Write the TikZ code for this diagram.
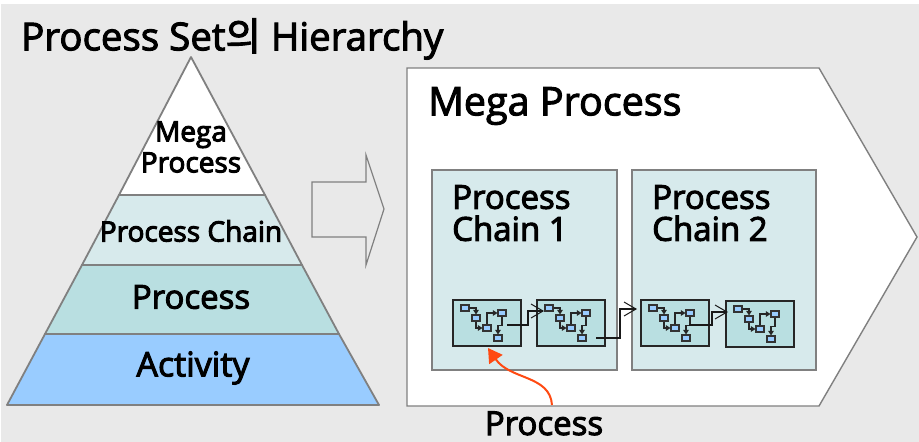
\documentclass[tikz,border=0pt]{standalone}
\usepackage{fontspec}
\setmainfont{Open Sans}
\newfontfamily\cjk{Noto Sans CJK KR}
\usetikzlibrary{arrows.meta}
\newcommand{\heavytext}{\special{pdf:code 2 Tr 1.0 w}}
\definecolor{bgg}{HTML}{E9E9E9}
\definecolor{edge}{HTML}{808080}
\definecolor{pale}{HTML}{D7EAEC}
\definecolor{teal}{HTML}{B9DFE1}
\definecolor{sky}{HTML}{99CCFF}
\definecolor{orng}{HTML}{FF4A12}
\tikzset{
 layer/.style={draw=edge,line width=1.8pt,line join=round},
 lbl/.style={inner sep=0pt,align=center,text=black,execute at begin node=\heavytext},
 word/.style={inner sep=0pt,text=black,anchor=base,execute at begin node=\heavytext},
 chainbox/.style={draw=edge,line width=1.8pt,fill=pale},
 procbox/.style={draw=black!85,line width=1.3pt,fill=teal,minimum width=68pt,minimum height=46pt,inner sep=0pt},
 mini/.style={draw=black!80,line width=1.1pt,fill=sky,minimum width=8pt,minimum height=6pt,inner sep=0pt},
 wire/.style={draw=black!85,line width=1.1pt,-{Triangle[length=4.5pt,width=5.5pt]}},
 link/.style={draw=black!90,line width=1.3pt,-{Straight Barb[length=12pt,width=14pt,line width=1pt]}},
}
\newcommand{\miniflow}[3]{%
 \node[procbox] (#1) at (#2,#3) {};
 \node[mini] (#1a) at (#2-22,#3-15) {};
 \node[mini] (#1b) at (#2-11,#3-5) {};
 \node[mini] (#1c) at (#2,#3+5) {};
 \node[mini] (#1d) at (#2+15,#3-10) {};
 \node[mini] (#1e) at (#2+11,#3+15) {};
 \draw[wire] (#1a.east) -| (#1b.north);
 \draw[wire] (#1b.south) |- (#1c.west);
 \draw[wire] (#1c.north) |- (#1d.west);
 \draw[wire] (#1d.south) -- ++(0,9) -| (#1e.north);
}
\begin{document}
\begin{tikzpicture}[x=1pt,y=-1pt]
\useasboundingbox (0,0) rectangle (919,442);
\fill[white] (0,0) rectangle (919,442);
\fill[bgg] (1,4) rectangle (919,442);
% pyramid
\coordinate (apex) at (191,57);
\coordinate (l1) at (119,195); \coordinate (r1) at (265,195);
\coordinate (l2) at (82,265); \coordinate (r2) at (302,265);
\coordinate (l3) at (45,334); \coordinate (r3) at (339,334);
\coordinate (l4) at (7,405); \coordinate (r4) at (379,405);
\draw[layer,fill=white] (apex)--(l1)--(r1)--cycle;
\draw[layer,fill=pale] (l1)--(l2)--(r2)--(r1)--cycle;
\draw[layer,fill=teal] (l2)--(l3)--(r3)--(r2)--cycle;
\draw[layer,fill=sky] (l3)--(l4)--(r4)--(r3)--cycle;
\node[lbl,font=\fontsize{28}{31}\selectfont] (mega) at (191,147) {Mega\\Process};
\node[lbl,font=\fontsize{28}{30}\selectfont] (chain) at (191,231) {Process Chain};
\node[lbl,font=\fontsize{33}{36}\selectfont] (proc) at (191,297) {Process};
\node[lbl,font=\fontsize{34}{36}\selectfont] (act) at (193,368) {Activity};
\node[lbl,anchor=west,font=\fontsize{38.5}{40}\selectfont] (title) at (21,39) {Process Set{\cjk 의} Hierarchy};
% block arrow
\draw[draw=edge,line width=1.2pt,fill=bgg,line join=miter] (312,182)--(366,182)--(366,155)--(384,209)--(366,265)--(366,237)--(312,237)--cycle;
% mega process
\draw[draw=edge,line width=1.4pt,fill=white] (407,68)--(819,68)--(917,237)--(819,406)--(407,406)--cycle;
\node[lbl,anchor=west,font=\fontsize{39.5}{42}\selectfont] (mp) at (428,106) {Mega Process};
\draw[chainbox] (432,170) rectangle (617,370);
\draw[chainbox] (632,170) rectangle (816,370);
\node[lbl,anchor=north west,align=left,font=\fontsize{33}{32}\selectfont] (c1) at (452,185) {Process\\Chain 1};
\node[lbl,anchor=north west,align=left,font=\fontsize{33}{32}\selectfont] (c2) at (652,185) {Process\\Chain 2};
\miniflow{pa}{487}{323}
\miniflow{pb}{571}{323}
\miniflow{pc}{675}{323}
\miniflow{pd}{760}{324}
\coordinate (sa) at (507,325);
\coordinate (sb) at (596,338);
\coordinate (sc) at (689,325);
\coordinate (ta) at (544,311);
\coordinate (tb) at (637,309);
\coordinate (tc) at (728,312);
\draw[link] (sa) -| (528,311) -- (ta);
\draw[link] (sb) -| (620,309) -- (tb);
\draw[link] (sc) -| (712,312) -- (tc);
% label
\node[word,font=\fontsize{33}{36}\selectfont] (plabel) at (544,435) {Process};
\coordinate (ptail) at (552,405);
\coordinate (ptip) at (488,348);
\draw[orng,line width=2pt,-{Triangle[length=14pt,width=16pt]}] (ptail) .. controls (550,375) and (510,380) .. (ptip);
\end{tikzpicture}
\end{document}
